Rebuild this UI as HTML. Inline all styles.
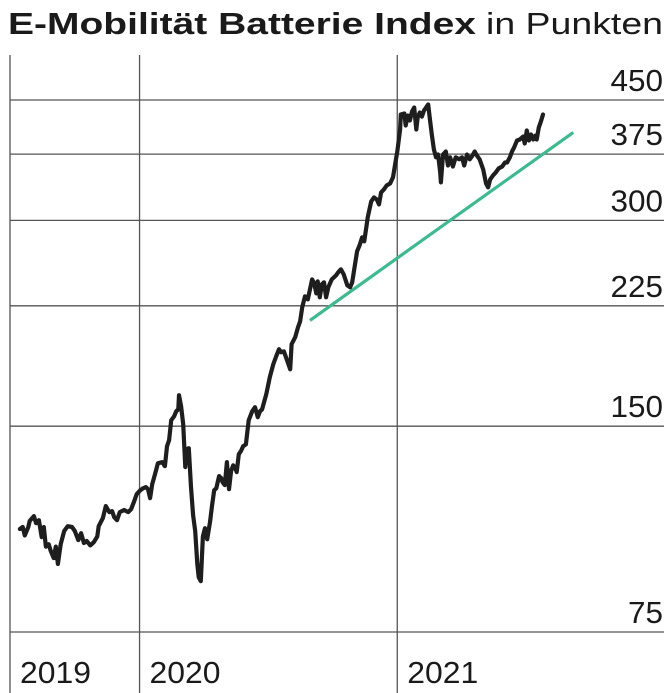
<!DOCTYPE html>
<html><head><meta charset="utf-8"><style>
html,body{margin:0;padding:0;background:#fff;}
svg{display:block;font-family:"Liberation Sans",sans-serif;}
</style></head><body>
<svg id="chart" width="671" height="693" viewBox="0 0 671 693">
<text x="8" y="34" font-size="31" font-weight="bold" fill="#1a1a1a" textLength="468" lengthAdjust="spacingAndGlyphs">E-Mobilität Batterie Index</text>
<text x="486" y="34" font-size="31" fill="#1a1a1a" textLength="177" lengthAdjust="spacingAndGlyphs">in Punkten</text>
<g id="grid"></g><g id="marks"></g>
</svg>
<script>
// days counted from 2019-07-01
const days=[14,18,21,26,28,34,37,41,45,48,51,55,58,62,65,68,72,77,82,88,92,97,101,105,109,114,119,124,126,132,136,141,145,148,152,156,162,168,172,176,180,185,189,193,196,199,202,206,210,216,220,223,226,229,233,236,239,240,243,246,249,251,254,257,260,263,266,268,271,274,277,280,284,287,290,293,297,300,302,305,308,311,314,317,320,322,325,328,331,335,339,344,348,352,355,358,364,369,374,378,382,385,389,393,398,400,405,409,412,415,419,423,426,429,432,435,437,440,443,446,449,452,457,463,466,470,474,479,483,486,490,493,497,500,503,506,508,513,517,521,524,527,531,535,540,544,547,550,554,555,560,562,565,568,571,574,577,579,582,585,588,591,594,596,599,602,605,608,611,612,615,619,622,625,629,633,638,642,645,649,653,656,660,663,667,672,676,679,682,686,690,694,699,703,706,710,713,716,720,724,729,731,734,737,740,743,746,748,751,754,757];
const values=[106.1,106.8,103.8,106.8,109,110.8,108.2,109.3,103.2,106.8,100,100.8,98.5,96.2,100,94.3,100.8,105.4,107.1,106.8,105.4,102.2,104.6,101.2,101.9,100.4,101.5,103.5,107.1,110.1,114.6,112.3,112.7,110.4,109.3,112.3,113.1,112.3,113.4,116.2,119.3,120.9,121.7,122.2,121.3,117.7,123.4,127.6,132.4,132.9,131.1,140.2,143.1,153,155.1,157.7,158.8,166.5,160.4,151,130.7,138.8,139.3,122.2,111.2,105.4,94.3,90.2,89,103.5,106.4,102.5,108.6,115,120.9,121.7,126.8,126,124.2,123,132.9,121.3,129,131.5,130.2,128.5,136.5,137.9,140.2,141.1,153,157.7,159.9,154.6,157.7,158.8,167.1,176.9,184.8,189.8,194.4,192.4,193,187.9,181.7,197.7,202.4,209.3,213.5,223.8,232.3,229.9,237.9,245.9,242.7,234.6,244.3,231.5,241.9,243.5,231.5,239.5,245.9,249.3,251.8,254.4,250.1,241.1,239.5,243.5,258.7,270.3,276.7,283.3,279.5,293,303,319.8,324.1,321.9,316.6,329.6,333,337.5,339.8,346.8,362.2,378.4,407.5,428.5,430,412.9,427.1,420,432.9,438.8,407.5,424.2,431.4,425.6,434.4,438.8,443.3,425.6,400.6,381,371,374.6,352.6,340.9,374.6,378.4,360.9,371,359.7,371,368.5,371,360.9,374.6,368.5,372.2,378.4,373.4,368.5,356.2,339.8,335.3,344.4,349.1,352.6,357.4,359.7,364.6,364.6,371,378.4,383.5,392.6,393.9,397.9,388.7,406.1,392.6,400.6,393.9,399.2,393.9,410.2,418.6,428.5];
const trendDays=[426,800];
const trendValues=[214.2,403.4];
const yTicks=[75,150,225,300,375,450];
const yearLabels=["2019","2020","2021"];
const yearStartDays=[0,184,550];

const NS="http://www.w3.org/2000/svg";
const X0=10,PX_PER_DAY=257/365;
function xs(d){return X0+d*PX_PER_DAY;}
const YB=632,YT=100,VMIN=75,VMAX=450;
function ys(v){return YB-(Math.log(v/VMIN)/Math.log(VMAX/VMIN))*(YB-YT);}
function mk(tag,attrs,parent){const e=document.createElementNS(NS,tag);for(const k in attrs)e.setAttribute(k,attrs[k]);parent.appendChild(e);return e;}
const grid=document.getElementById('grid'),marks=document.getElementById('marks');

yTicks.forEach((t,i)=>{
  const y=ys(t);
  const l=mk('line',{x1:10,x2:664,y1:y,y2:y,stroke:'#555','stroke-width':1.3},grid);
  
  
  const s=String(t);
  const tx=mk('text',{x:663,y:y-9,'text-anchor':'end','font-size':31,fill:'#1a1a1a',textLength:17.5*s.length,lengthAdjust:'spacingAndGlyphs'},grid);
  tx.textContent=s;
  
  
});
yearLabels.forEach((lab,i)=>{
  const x=xs(yearStartDays[i]);
  const l=mk('line',{x1:x,x2:x,y1:55,y2:693,stroke:'#555','stroke-width':1.3},grid);
  
  
  const tx=mk('text',{x:x+10,y:683,'font-size':31,fill:'#1a1a1a',textLength:71,lengthAdjust:'spacingAndGlyphs'},grid);
  tx.textContent=lab;
  
  
});
const tl=mk('line',{x1:xs(trendDays[0]),y1:ys(trendValues[0]),x2:xs(trendDays[1]),y2:ys(trendValues[1]),stroke:'#3dbb8f','stroke-width':3.2},marks);


const pts=days.map((d,i)=>xs(d).toFixed(1)+','+ys(values[i]).toFixed(1)).join(' ');
const pl=mk('polyline',{points:pts,fill:'none',stroke:'#1e1e1e','stroke-width':4.2,'stroke-linejoin':'round','stroke-linecap':'round'},marks);


</script>
</body></html>
